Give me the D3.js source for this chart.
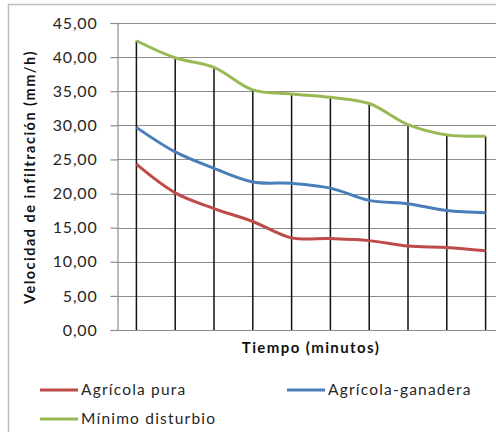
<!DOCTYPE html>
<meta charset="utf-8">
<html>
  <head>
  <title>Infiltracion</title>
    <style>
      body {
        margin: 0;
        background: #fff;
        font-family: 'Lato', sans-serif;
      }
      .tick text { fill: #262626; }
    </style>
  </head>
  <body>
<div id="svgCanvas"></div>

<script src="https://d3js.org/d3.v7.min.js"></script>
<script>

// time steps (no labels shown on the axis)
var categories = ["1", "2", "3", "4", "5", "6", "7", "8", "9", "10"];

var agricolaPura     = [24.3, 20.1, 17.8, 15.9, 13.5, 13.4, 13.1, 12.3, 12.1, 11.6];
var agricolaGanadera = [29.7, 26.1, 23.7, 21.7, 21.5, 20.8, 19.0, 18.5, 17.5, 17.2];
var minimoDisturbio  = [42.4, 39.9, 38.5, 35.2, 34.6, 34.1, 33.2, 30.1, 28.6, 28.4];

var seriesNames = ["Agrícola pura", "Agrícola-ganadera", "Mínimo disturbio"];
var yTicks = [0, 5, 10, 15, 20, 25, 30, 35, 40, 45];

var colors = ["#BE4B48", "#4A7EBB", "#98B954"];
var series = [agricolaPura, agricolaGanadera, minimoDisturbio];

var width = 496;
var height = 432;

var svg = d3.select("#svgCanvas")
    .append("svg")
      .attr("width", width)
      .attr("height", height);

// chart frame
svg.append("rect")
    .attr("x", 8.5)
    .attr("y", 4.5)
    .attr("width", 520)
    .attr("height", 460)
    .style("fill", "#fff")
    .style("stroke", "#bdbdbd")
    .style("stroke-width", 1.5);

var x = d3.scaleBand()
    .domain(categories)
    .range([117, 505]);

var y = d3.scaleLinear()
    .domain([0, 45])
    .range([330, 23]);

function cx(d, i) { return x(categories[i]) + x.bandwidth() / 2; }

// horizontal gridlines + y axis
var yAxis = d3.axisLeft(y)
    .tickValues(yTicks)
    .tickSize(7)
    .tickFormat(function (d) { return d3.format(".2f")(d).replace(".", ","); });

svg.append("g")
    .attr("class", "grid")
  .selectAll("line")
  .data(yTicks).enter()
    .append("line")
    .attr("x1", 117)
    .attr("x2", 505)
    .attr("y1", function (d) { return Math.round(y(d)) + 0.5; })
    .attr("y2", function (d) { return Math.round(y(d)) + 0.5; })
    .style("stroke", "#8c8c8c")
    .style("stroke-width", 1.2);

var gy = svg.append("g")
    .attr("transform", "translate(117.5,0)")
    .call(yAxis);
gy.select(".domain").style("stroke", "#8c8c8c").style("stroke-width", 1.2);
gy.selectAll(".tick line").style("stroke", "#8c8c8c").style("stroke-width", 1.2);
gy.selectAll(".tick text")
    .attr("x", -20)
    .style("font-family", "Lato, sans-serif")
    .style("font-size", "16px")
    .style("letter-spacing", "0.8px");

// drop lines
svg.append("g")
  .selectAll("line")
  .data(categories).enter()
    .append("line")
    .attr("x1", function (d, i) { return cx(d, i); })
    .attr("x2", function (d, i) { return cx(d, i); })
    .attr("y1", function (d, i) { return y(d3.max(series, function (s) { return s[i]; })); })
    .attr("y2", y(0))
    .style("stroke", "#111")
    .style("stroke-width", 1.5);

// series lines
var line = d3.line()
    .x(function (d, i) { return cx(d, i); })
    .y(function (d) { return y(d); })
    .curve(d3.curveCatmullRom.alpha(0.5));

svg.append("g")
  .selectAll("path")
  .data(series).enter()
    .append("path")
    .attr("d", line)
    .style("fill", "none")
    .style("stroke", function (d, i) { return colors[i]; })
    .style("stroke-width", 3)
    .style("stroke-linejoin", "round");

// axis titles
svg.append("text")
    .attr("x", 311)
    .attr("y", 353)
    .attr("text-anchor", "middle")
    .style("font-weight", "bold")
    .style("font-size", "15px")
    .style("letter-spacing", "1.4px")
    .style("fill", "#111")
    .text("Tiempo (minutos)");

svg.append("text")
    .attr("transform", "translate(35,177) rotate(-90)")
    .attr("text-anchor", "middle")
    .style("font-weight", "bold")
    .style("font-size", "14.5px")
    .style("letter-spacing", "1.5px")
    .style("fill", "#111")
    .text("Velocidad de infiltración (mm/h)");

// legend
var legendPos = [[40, 390], [287, 390], [40, 419]];
var legend = svg.append("g")
  .selectAll("g")
  .data(seriesNames).enter()
    .append("g")
    .attr("transform", function (d, i) { return "translate(" + legendPos[i][0] + "," + legendPos[i][1] + ")"; });
legend.append("line")
    .attr("x1", 0)
    .attr("x2", 38)
    .style("stroke", function (d, i) { return colors[i]; })
    .style("stroke-width", 3);
legend.append("text")
    .attr("x", 41)
    .attr("dy", "0.35em")
    .style("font-size", "15.5px")
    .style("letter-spacing", "1.2px")
    .style("fill", "#262626")
    .text(function (d) { return d; });

</script>
  </body>
</html>
